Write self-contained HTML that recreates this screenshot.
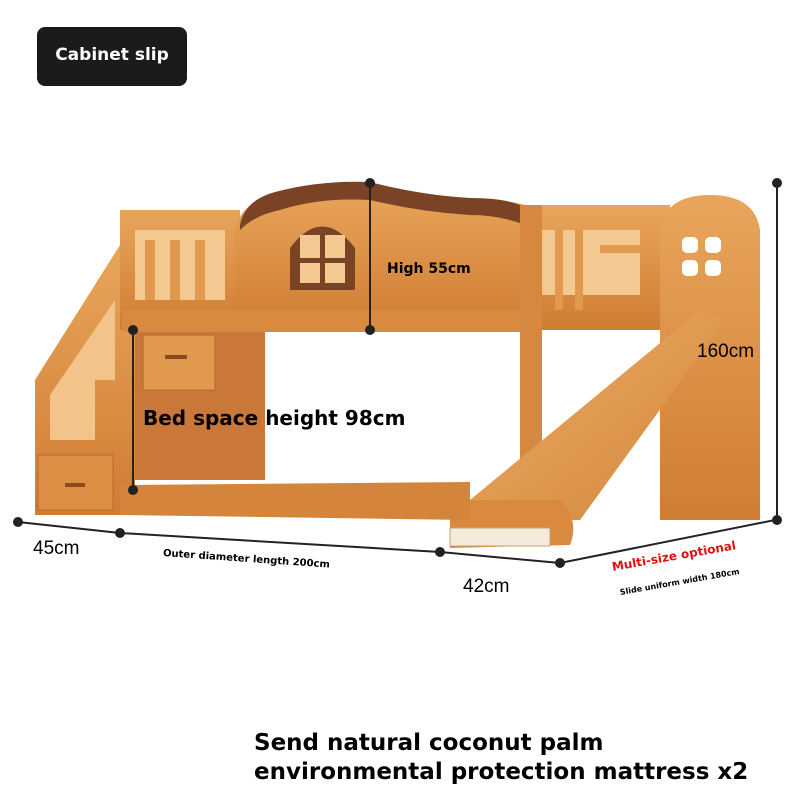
<!DOCTYPE html>
<html><head><meta charset="utf-8"><style>
body{margin:0;width:800px;height:800px;background:#fff;overflow:hidden;position:relative;font-family:"Liberation Sans",sans-serif}
.t{position:absolute;white-space:nowrap}
.d{font-family:"DejaVu Sans",sans-serif;font-weight:bold}
</style></head><body>
<svg width="800" height="800" style="position:absolute;left:0;top:0">
<defs>
<linearGradient id="w" x1="0" y1="0" x2="0" y2="1"><stop offset="0" stop-color="#e9a55c"/><stop offset="1" stop-color="#cf7d33"/></linearGradient>
<linearGradient id="s" x1="0" y1="0" x2="1" y2="1"><stop offset="0" stop-color="#eeb06a"/><stop offset="1" stop-color="#d2843a"/></linearGradient>
</defs>
<polygon points="35,380 120,245 135,245 135,515 35,515" fill="url(#w)"/>
<polygon points="50,395 115,300 115,380 95,380 95,440 50,440" fill="#f3c48a"/>
<rect x="38" y="455" width="75" height="55" fill="#dc8e45" stroke="#b86a2a"/>
<rect x="65" y="483" width="20" height="4" fill="#8a4a1c"/>
<rect x="135" y="330" width="130" height="150" fill="#c9783a"/>
<rect x="143" y="335" width="72" height="55" fill="#e0994f" stroke="#b86a2a"/>
<rect x="165" y="355" width="22" height="4" fill="#8a4a1c"/>
<rect x="120" y="210" width="120" height="120" fill="url(#w)"/>
<rect x="135" y="230" width="90" height="70" fill="#f4c891"/>
<rect x="145" y="240" width="10" height="60" fill="#e0994f"/><rect x="170" y="240" width="10" height="60" fill="#e0994f"/><rect x="195" y="240" width="10" height="60" fill="#e0994f"/>
<path d="M235,330 L235,230 Q240,205 270,195 Q320,180 370,183 Q420,195 470,200 Q510,200 525,205 L525,330 Z" fill="url(#w)"/>
<path d="M240,225 Q245,200 275,192 Q320,180 370,182 Q420,195 470,198 Q510,198 525,208 L525,225 Q500,215 470,215 Q420,212 370,200 Q320,197 280,210 Q255,215 240,230Z" fill="#7a4326"/>
<path d="M290,290 L290,248 Q322,205 355,248 L355,290Z" fill="#7a4326"/>
<rect x="300" y="235" width="45" height="48" fill="#f4c891"/>
<rect x="320" y="228" width="5" height="60" fill="#7a4326"/><rect x="298" y="258" width="50" height="5" fill="#7a4326"/>
<rect x="122" y="310" width="400" height="22" fill="#d88a3f"/>
<rect x="520" y="205" width="150" height="125" fill="url(#w)"/>
<rect x="540" y="230" width="100" height="65" fill="#f4c891"/>
<rect x="555" y="230" width="8" height="80" fill="#e0994f"/><rect x="575" y="230" width="8" height="80" fill="#e0994f"/>
<rect x="600" y="245" width="40" height="8" fill="#e0994f"/>
<rect x="520" y="205" width="22" height="310" fill="#d68740"/>
<path d="M660,520 L660,230 Q665,195 710,195 Q755,195 760,230 L760,520Z" fill="url(#w)"/>
<g fill="#fff"><rect x="682" y="237" width="16" height="16" rx="5"/><rect x="705" y="237" width="16" height="16" rx="5"/><rect x="682" y="260" width="16" height="16" rx="5"/><rect x="705" y="260" width="16" height="16" rx="5"/></g>
<polygon points="700,310 725,320 580,520 450,525 470,500" fill="url(#s)"/>
<path d="M450,500 L560,500 Q580,520 570,545 L450,548Z" fill="#d98a3e"/>
<rect x="450" y="528" width="100" height="18" fill="#f3eadb" stroke="#c9a27a"/>
<polygon points="120,485 470,482 470,520 120,515" fill="#d4843b"/>
<g stroke="#222" stroke-width="2" fill="#222">
<line x1="370" y1="183" x2="370" y2="330"/><circle cx="370" cy="183" r="4"/><circle cx="370" cy="330" r="4"/>
<line x1="133" y1="330" x2="133" y2="490"/><circle cx="133" cy="330" r="4"/><circle cx="133" cy="490" r="4"/>
<line x1="777" y1="183" x2="777" y2="520"/><circle cx="777" cy="183" r="4"/><circle cx="777" cy="520" r="4"/>
<polyline points="18,522 120,533 440,552 560,563 775,520" fill="none"/>
<circle cx="18" cy="522" r="4"/><circle cx="120" cy="533" r="4"/><circle cx="440" cy="552" r="4"/><circle cx="560" cy="563" r="4"/>
</g>
</svg>
<div class="d" style="position:absolute;left:37px;top:27px;width:150px;height:59px;background:#1b1b1b;border-radius:8px;color:#fff;font-size:17px;line-height:57px;text-align:center">Cabinet slip</div>
<div class="t d" style="left:387px;top:261px;font-size:14px">High 55cm</div>
<div class="t" style="left:697px;top:341px;font-size:19px">160cm</div>
<div class="t d" style="left:143px;top:406px;font-size:20px">Bed space height 98cm</div>
<div class="t" style="left:33px;top:538px;font-size:19px">45cm</div>
<div class="t d" style="left:163px;top:548px;font-size:10px;transform:rotate(4deg);transform-origin:left">Outer diameter length 200cm</div>
<div class="t" style="left:463px;top:576px;font-size:19px">42cm</div>
<div class="t d" style="left:612px;top:560px;font-size:12px;color:#e01010;transform:rotate(-10deg);transform-origin:left">Multi-size optional</div>
<div class="t d" style="left:620px;top:588px;font-size:8px;transform:rotate(-10deg);transform-origin:left">Slide uniform width 180cm</div>
<div class="t d" style="left:254px;top:729px;font-size:23px;line-height:29px">Send natural coconut palm<br>environmental protection mattress x2</div>
</body></html>
